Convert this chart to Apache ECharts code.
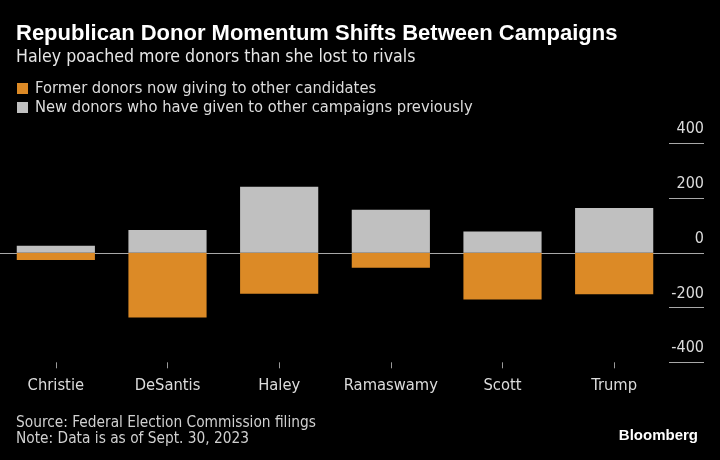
<!DOCTYPE html>
<html>
<head>
<meta charset="utf-8">
<script src="https://cdn.jsdelivr.net/npm/echarts@6/dist/echarts.min.js"></script>
<style>html,body{margin:0;padding:0;background:#000;}#c{width:720px;height:460px;}</style>
</head>
<body>
<div id="c"></div>
<script>
const categories = ['Christie', 'DeSantis', 'Haley', 'Ramaswamy', 'Scott', 'Trump'];
const formerDonors = [-26, -236, -150, -55, -171, -151];
const newDonors = [26, 83, 241, 157, 78, 164];
const yTicks = [-400, -200, 0, 200, 400];
const legendNames = ['Former donors now giving to other candidates', 'New donors who have given to other campaigns previously'];

const NARROW = '"Liberation Sans Narrow", "DejaVu Sans Condensed", "Arial Narrow", sans-serif';
const BOLD = '"Liberation Sans", Arial, sans-serif';
const ORANGE = '#dc8a26';
const GRAY = '#c0c0c0';
const LINE = '#a8a8a8';

const chart = echarts.init(document.getElementById('c'));
const yMin = yTicks[0], yMax = yTicks[yTicks.length - 1];
chart.setOption({
  backgroundColor: '#000',
  animation: false,
  title: [
    { text: 'Republican Donor Momentum Shifts Between Campaigns', left: 16, top: 21, padding: 0,
      textStyle: { color: '#fff', fontFamily: BOLD, fontWeight: 'bold', fontSize: 22, lineHeight: 25 } },
    { text: 'Haley poached more donors than she lost to rivals', left: 16, top: 47, padding: 0,
      textStyle: { color: '#e6e6e6', fontFamily: NARROW, fontWeight: 'normal', fontSize: 17.6, lineHeight: 20 } },
    { text: 'Source: Federal Election Commission filings', left: 16, top: 414.5, padding: 0,
      textStyle: { color: '#d0d0d0', fontFamily: NARROW, fontWeight: 'normal', fontSize: 15.3, lineHeight: 17 } },
    { text: 'Note: Data is as of Sept. 30, 2023', left: 16, top: 431, padding: 0,
      textStyle: { color: '#d0d0d0', fontFamily: NARROW, fontWeight: 'normal', fontSize: 15.3, lineHeight: 17 } },
    { text: 'Bloomberg', right: 22, top: 427, padding: 0,
      textStyle: { color: '#fff', fontFamily: BOLD, fontWeight: 'bold', fontSize: 15, lineHeight: 18 } }
  ],
  legend: {
    orient: 'vertical', left: 17, top: 80, padding: 0, itemGap: 2,
    icon: 'rect', itemWidth: 11, itemHeight: 11, selectedMode: false,
    data: legendNames,
    textStyle: { color: '#dcdcdc', fontFamily: NARROW, fontSize: 16.4, lineHeight: 17, padding: [0, 0, 0, 2] }
  },
  grid: [
    { left: -1, width: 671, top: 143.3, bottom: 97.7 },
    { left: 669, width: 35, top: 143.3, bottom: 97.7 }
  ],
  xAxis: [
    { type: 'category', gridIndex: 0, data: categories, position: 'bottom',
      axisLine: { show: false, onZero: false },
      axisTick: { show: true, alignWithLabel: true, length: 6, lineStyle: { color: '#999', width: 1 } },
      axisLabel: { interval: 0, color: '#dcdcdc', fontFamily: NARROW, fontSize: 16.4, margin: 15 } },
    { type: 'category', gridIndex: 0, data: categories, position: 'top',
      axisLine: { show: true, onZero: true, lineStyle: { color: LINE, width: 1 } },
      axisTick: { show: false }, axisLabel: { show: false } },
    { type: 'value', gridIndex: 1, min: 0, max: 1, show: false }
  ],
  yAxis: [
    { type: 'value', gridIndex: 0, min: yMin, max: yMax, show: false },
    { type: 'value', gridIndex: 1, min: yMin, max: yMax, interval: 200, position: 'right',
      axisLine: { show: false }, axisTick: { show: false },
      splitLine: { show: true, lineStyle: { color: LINE, width: 1 } },
      axisLabel: { inside: true, margin: 0, color: '#dcdcdc', fontFamily: NARROW, fontSize: 16,
        verticalAlign: 'bottom', padding: [0, 0, 6, 0] } }
  ],
  series: [
    { name: legendNames[0], type: 'bar', xAxisIndex: 0, yAxisIndex: 0, stack: 's', barWidth: '70%',
      itemStyle: { color: ORANGE }, data: formerDonors },
    { name: legendNames[1], type: 'bar', xAxisIndex: 0, yAxisIndex: 0, stack: 's', barWidth: '70%',
      itemStyle: { color: GRAY }, data: newDonors }
  ]
});
</script>
</body>
</html>
